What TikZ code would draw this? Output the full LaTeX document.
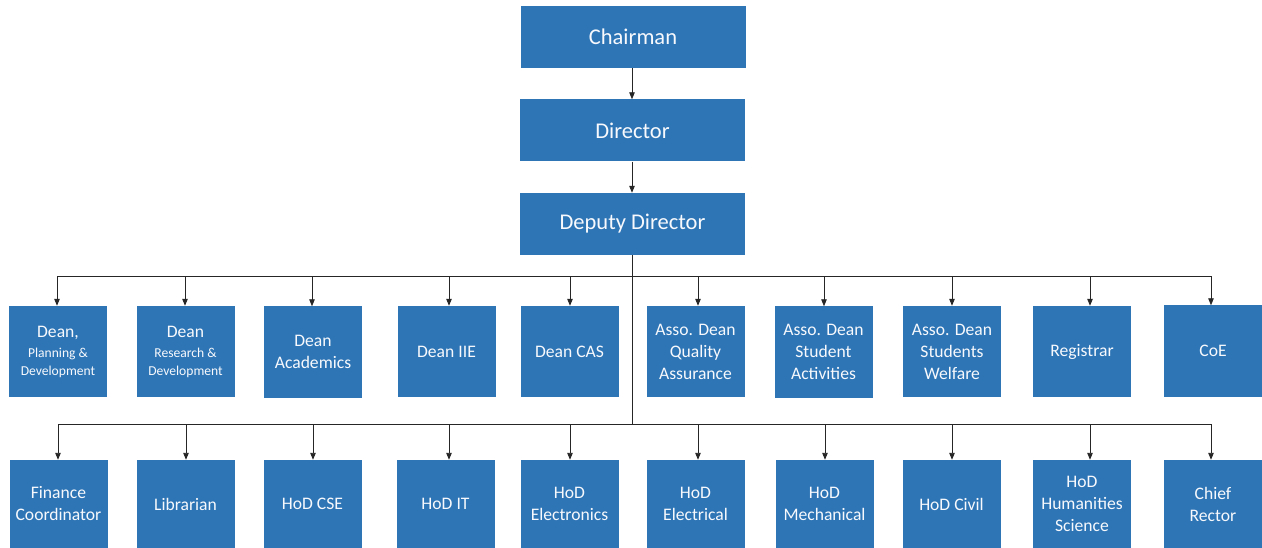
\documentclass[tikz,border=0pt]{standalone}
\usepackage{fontspec}
\setmainfont{Carlito}
\usetikzlibrary{arrows.meta}
\definecolor{boxblue}{RGB}{46,117,182}
\begin{document}
\begin{tikzpicture}[x=1pt,y=-1pt,
 box/.style={fill=boxblue, text=white!96!boxblue, inner sep=0pt, align=center, font=\fontsize{17.6}{22}\selectfont},
 topbox/.style={box, minimum width=225pt, minimum height=62pt, font=\fontsize{22.5}{26}\selectfont},
 rowone/.style={box, minimum width=98pt, minimum height=91pt},
 rowtwo/.style={box, minimum width=98pt, minimum height=88pt},
 arr/.style={-{Triangle[length=7pt,width=5.5pt]}, line width=0.9pt, draw=black!85},
 ln/.style={line width=0.9pt, draw=black!85}]
\useasboundingbox (0,0) rectangle (1262,548);
% top chain
\node[topbox] (chair) at (633,37) {Chairman};
\node[topbox] (dir) at (632.5,130.5) {Director};
\node[topbox] (dep) at (632.5,224) {Deputy Director};
% row 1
\node[rowone] (a1) at (58,351.5) {Dean,\\[-2pt]{\fontsize{13.6}{17}\selectfont Planning \&}\\[-4pt]{\fontsize{13.6}{17}\selectfont Development}};
\node[rowone] (a2) at (185.5,351.5) {Dean\\[-2pt]{\fontsize{13.6}{17}\selectfont Research \&}\\[-4pt]{\fontsize{13.6}{17}\selectfont Development}};
\node[rowone] (a3) at (313,352) {Dean\\Academics};
\node[rowone] (a4) at (446.5,351.5) {Dean IIE};
\node[rowone] (a5) at (569.5,351.5) {Dean CAS};
\node[rowone] (a6) at (695.5,351.5) {Asso. Dean\\Quality\\Assurance};
\node[rowone] (a7) at (823.5,352) {Asso. Dean\\Student\\Activities};
\node[rowone] (a8) at (952,351.5) {Asso. Dean\\Students\\Welfare};
\node[rowone] (a9) at (1082,351.5) {Registrar};
\node[rowone] (a10) at (1213,351) {CoE};
% row 2
\node[rowtwo] (b1) at (58.5,504) {Finance\\Coordinator};
\node[rowtwo] (b2) at (185.5,504) {Librarian};
\node[rowtwo] (b3) at (312.5,504) {HoD CSE};
\node[rowtwo] (b4) at (445.5,504) {HoD IT};
\node[rowtwo] (b5) at (569.5,504) {HoD\\Electronics};
\node[rowtwo] (b6) at (695.5,504) {HoD\\Electrical};
\node[rowtwo] (b7) at (824.5,504) {HoD\\Mechanical};
\node[rowtwo] (b8) at (951.5,504) {HoD Civil};
\node[rowtwo] (b9) at (1082,504) {HoD\\Humanities\\Science};
\node[rowtwo] (b10) at (1213,504) {Chief\\Rector};
% connectors
\coordinate (busone) at (632,276);
\coordinate (bustwo) at (632,424);
\draw[arr] (chair.south -| busone) -- (dir.north -| busone);
\draw[arr] (dir.south -| busone) -- (dep.north -| busone);
\draw[ln] (dep.south -| busone) -- (bustwo);
\foreach \n/\x in {a1/57,a2/185,a3/312,a4/449,a5/570,a6/698,a7/824,a8/952,a9/1090,a10/1211}
  \draw[arr] (busone) -| (\n.north -| \x,0);
\foreach \n/\x in {b1/58,b2/186,b3/313,b4/449,b5/570,b6/698,b7/825,b8/952,b9/1090,b10/1211}
  \draw[arr] (bustwo) -| (\n.north -| \x,0);
\end{tikzpicture}
\end{document}
